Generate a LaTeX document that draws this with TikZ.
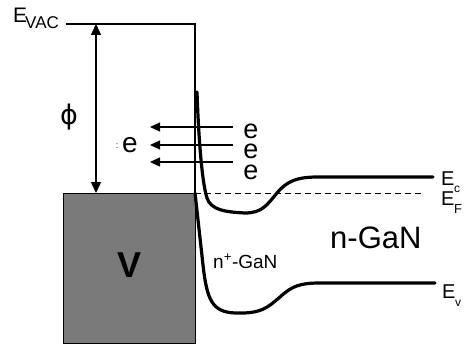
\documentclass[tikz,border=0pt]{standalone}
\usepackage{fontspec}
\setmainfont{Liberation Sans}
\newfontfamily\dejavu{DejaVu Sans}
\usetikzlibrary{arrows.meta}
\newcommand{\fsz}[1]{\fontsize{#1}{#1}\selectfont}
\begin{document}
\begin{tikzpicture}[x=1pt,y=-1pt,
  band/.style={line width=3.2pt, line cap=round, line join=round},
  edge/.style={line width=1.6pt},
  emit/.style={line width=1.3pt,-{Triangle[length=10pt,width=9pt]}},
  phiarrow/.style={line width=1.4pt,{Triangle[length=11pt,width=10pt]}-{Triangle[length=11pt,width=10pt]}},
  lbl/.style={inner sep=0pt, anchor=base west},
  ctr/.style={inner sep=0pt},
]
\useasboundingbox (0,0) rectangle (471,350);
% metal
\fill[black!52] (63,193) rectangle (195,343);
\draw[line width=1pt] (63,193) rectangle (195,343);
% coordinates
\coordinate (vacL) at (66,24);
\coordinate (vacR) at (195,24);
\coordinate (metalTR) at (195,193);
\coordinate (phiTop) at (96,24);
\coordinate (phiBot) at (96,193);
\coordinate (efR) at (422,193);
% vacuum level and surface
\draw[edge] (vacL) -- (vacR) -- (metalTR);
% work function
\draw[phiarrow] (phiTop) -- (phiBot);
% Fermi level
\draw[line width=0.9pt, dash pattern=on 6pt off 4pt] (metalTR) -- (efR);
% conduction band
\draw[band] (197,92) .. controls (199,150) and (203,186) .. (207,198)
  .. controls (211,210) and (225,212) .. (245,213)
  .. controls (262,213) and (267,205) .. (277,193)
  .. controls (287,181) and (297,177) .. (318,177) -- (433,177);
% valence band
\draw[band] (195,193) -- (203,265)
  .. controls (207,300) and (212,312) .. (235,313)
  .. controls (262,314) and (268,307) .. (280,297)
  .. controls (292,286) and (300,283) .. (320,283) -- (435,283);
% electron labels and emission arrows
\node[ctr, font=\fsz{27}] (e1) at (251,131) {e};
\node[ctr, font=\fsz{27}] (e2) at (251,151.5) {e};
\node[ctr, font=\fsz{27}] (e3) at (251,172) {e};
\coordinate (a1s) at (233,127); \coordinate (a1e) at (150,127);
\coordinate (a2s) at (233,145); \coordinate (a2e) at (150,145);
\coordinate (a3s) at (233,162); \coordinate (a3e) at (150,162);
\draw[emit] (a1s) -- (a1e);
\draw[emit] (a2s) -- (a2e);
\draw[emit] (a3s) -- (a3e);
\node[ctr, font=\fsz{9}] (colon) at (117,146) {:};
\node[ctr, font=\fsz{28}] (eleft) at (130,145) {e};
% texts
\node[lbl, font=\fsz{21}] (evacE) at (13,23) {E};
\node[lbl, font=\fsz{17}] (evacS) at (25,29) {VAC};
\node[ctr, font=\dejavu\fsz{27}] (phi) at (69,117) {ϕ};
\node[ctr, font=\bfseries\fsz{36}] (metal) at (130,265) {V};
\node[lbl, font=\fsz{19}] (nplus) at (213,268) {n\textsuperscript{+}-GaN};
\node[lbl, font=\fsz{31}] (ngan) at (330,248) {n-GaN};
\node[lbl, font=\fsz{20}] (ecE) at (441,185) {E};
\node[lbl, font=\fsz{12}] (ecS) at (454,192) {c};
\node[lbl, font=\fsz{20}] (efE) at (441,205) {E};
\node[lbl, font=\fsz{13}] (efS) at (454,213) {F};
\node[lbl, font=\fsz{20}] (evE) at (442,298) {E};
\node[lbl, font=\fsz{12}] (evS) at (455,306) {v};
\end{tikzpicture}
\end{document}
